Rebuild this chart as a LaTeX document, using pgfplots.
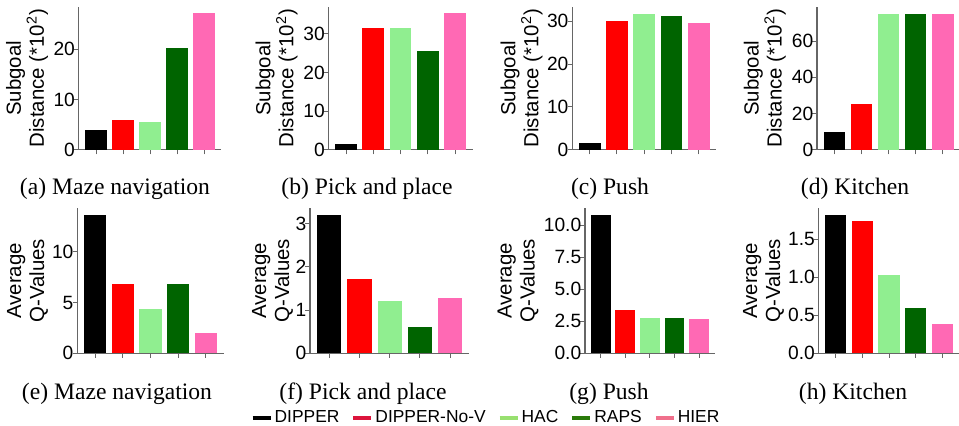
\documentclass[border=0pt]{standalone}
\usepackage{pgfplots}
\pgfplotsset{compat=1.18}
\usepackage{fontspec}
\setmainfont{Liberation Sans}
\newfontfamily\capfont{Liberation Serif}
\definecolor{cK}{HTML}{000000}
\definecolor{cR}{HTML}{FF0000}
\definecolor{cLG}{HTML}{90EE90}
\definecolor{cDG}{HTML}{006400}
\definecolor{cP}{HTML}{FF69B4}
\definecolor{lR}{HTML}{DC143C}
\definecolor{lLG}{HTML}{98E070}
\definecolor{lDG}{HTML}{2A7A0A}
\definecolor{lP}{HTML}{F0708C}
\definecolor{spine}{HTML}{666666}
\pgfplotsset{
 dip/.style={
  scale only axis, anchor=south west,
  axis x line*=bottom, axis y line*=left,
  axis line style={draw=spine, line width=0.55pt},
  xmin=-0.64, xmax=4.64, ymin=0,
  xtick={0,1,2,3,4}, xticklabels={},
  major tick length=2.3pt,
  tick align=outside,
  tick style={draw=spine, line width=0.45pt},
  tick label style={font=\fontsize{9.6}{11}\selectfont},
  yticklabel style={inner sep=0.6pt, xshift=1.2pt},
  ylabel style={align=center, font=\fontsize{10.2}{11.5}\selectfont, anchor=center},
  /pgf/number format/assume math mode=true,
 },
 ylabpos/.style={ylabel style={at={(axis description cs:-#1,0.5)}}},
 toprow/.style={dip, height=71.5pt, ylabel={Subgoal\\Distance (*10\textsuperscript{2})}},
 botrow/.style={dip, height=72.5pt, ylabel={Average\\Q-Values}},
 bstyle/.style={ybar, bar width=0.8, bar shift=0pt, draw=none, fill=#1},
}
\newcommand\capt[3]{\node[anchor=base, font=\capfont\fontsize{11.8}{14}\selectfont] at (#1pt,#2pt) {#3};}
\begin{document}
\begin{tikzpicture}
\useasboundingbox (0,0) rectangle (479.5pt,212.5pt);
% (a)
\begin{axis}[toprow, ylabpos=0.361, at={(39.35pt,137.65pt)}, width=71.3pt, ymax=28.5,
  ytick={0,10,20}, yticklabels={0,10,20}]
\addplot[bstyle=cK] coordinates {(0,3.96)};
\addplot[bstyle=cR] coordinates {(1,5.94)};
\addplot[bstyle=cLG] coordinates {(2,5.5)};
\addplot[bstyle=cDG] coordinates {(3,20.2)};
\addplot[bstyle=cP] coordinates {(4,27.2)};
\end{axis}
% (b)
\begin{axis}[toprow, ylabpos=0.361, at={(164.3pt,137.65pt)}, width=71.95pt, ymax=37.0,
  ytick={0,10,20,30}, yticklabels={0,10,20,30}]
\addplot[bstyle=cK] coordinates {(0,1.46)};
\addplot[bstyle=cR] coordinates {(1,31.6)};
\addplot[bstyle=cLG] coordinates {(2,31.6)};
\addplot[bstyle=cDG] coordinates {(3,25.5)};
\addplot[bstyle=cP] coordinates {(4,35.25)};
\end{axis}
% (c)
\begin{axis}[toprow, ylabpos=0.351, at={(286.1pt,137.65pt)}, width=72.0pt, ymax=33.4,
  ytick={0,10,20,30}, yticklabels={0,10,20,30}]
\addplot[bstyle=cK] coordinates {(0,1.55)};
\addplot[bstyle=cR] coordinates {(1,30.1)};
\addplot[bstyle=cLG] coordinates {(2,31.8)};
\addplot[bstyle=cDG] coordinates {(3,31.3)};
\addplot[bstyle=cP] coordinates {(4,29.5)};
\end{axis}
% (d)
\begin{axis}[toprow, ylabpos=0.364, at={(408.5pt,137.65pt)}, width=71.5pt, ymax=79.0,
  ytick={0,20,40,60}, yticklabels={0,20,40,60}]
\addplot[bstyle=cK] coordinates {(0,9.7)};
\addplot[bstyle=cR] coordinates {(1,25.5)};
\addplot[bstyle=cLG] coordinates {(2,75.2)};
\addplot[bstyle=cDG] coordinates {(3,75.2)};
\addplot[bstyle=cP] coordinates {(4,75.2)};
\end{axis}
% (e)
\begin{axis}[botrow, ylabpos=0.339, at={(38.6pt,35.85pt)}, width=73.25pt, ymax=14.3,
  ytick={0,5,10}, yticklabels={0,5,10}]
\addplot[bstyle=cK] coordinates {(0,13.65)};
\addplot[bstyle=cR] coordinates {(1,6.84)};
\addplot[bstyle=cLG] coordinates {(2,4.38)};
\addplot[bstyle=cDG] coordinates {(3,6.84)};
\addplot[bstyle=cP] coordinates {(4,2.04)};
\end{axis}
% (f)
\begin{axis}[botrow, ylabpos=0.235, at={(155.0pt,35.85pt)}, width=79.65pt, ymax=3.35,
  ytick={0,1,2,3}, yticklabels={0,1,2,3}]
\addplot[bstyle=cK] coordinates {(0,3.19)};
\addplot[bstyle=cR] coordinates {(1,1.715)};
\addplot[bstyle=cLG] coordinates {(2,1.21)};
\addplot[bstyle=cDG] coordinates {(3,0.61)};
\addplot[bstyle=cP] coordinates {(4,1.28)};
\end{axis}
% (g)
\begin{axis}[botrow, ylabpos=0.516, at={(292.5pt,35.85pt)}, width=64.9pt, ymax=11.33,
  ytick={0,2.5,5,7.5,10}, yticklabels={0.0,2.5,5.0,7.5,10.0}]
\addplot[bstyle=cK] coordinates {(0,10.8)};
\addplot[bstyle=cR] coordinates {(1,3.39)};
\addplot[bstyle=cLG] coordinates {(2,2.76)};
\addplot[bstyle=cDG] coordinates {(3,2.76)};
\addplot[bstyle=cP] coordinates {(4,2.68)};
\end{axis}
% (h)
\begin{axis}[botrow, ylabpos=0.391, at={(409.3pt,35.85pt)}, width=70.4pt, ymax=1.91,
  ytick={0,0.5,1,1.5}, yticklabels={0.0,0.5,1.0,1.5}]
\addplot[bstyle=cK] coordinates {(0,1.82)};
\addplot[bstyle=cR] coordinates {(1,1.746)};
\addplot[bstyle=cLG] coordinates {(2,1.03)};
\addplot[bstyle=cDG] coordinates {(3,0.596)};
\addplot[bstyle=cP] coordinates {(4,0.39)};
\end{axis}
% legend
\begin{axis}[at={(0pt,0pt)}, anchor=south west, scale only axis, width=479.5pt, height=212.5pt,
  xmin=0, xmax=959, ymin=0, ymax=425, hide axis,
  legend columns=5,
  legend style={at={(0.5068,0.016)}, anchor=center, draw=none, fill=none,
    font=\fontsize{8.7}{10}\selectfont, inner sep=0pt, nodes={inner sep=1pt},
    /tikz/every even column/.append style={column sep=5pt}},
  legend image code/.code={\draw[#1, line width=2pt] (0pt,0pt) -- (9pt,0pt);}]
\addlegendimage{cK}\addlegendentry{DIPPER}
\addlegendimage{lR}\addlegendentry{DIPPER-No-V}
\addlegendimage{lLG}\addlegendentry{HAC}
\addlegendimage{lDG}\addlegendentry{RAPS}
\addlegendimage{lP}\addlegendentry{HIER}
\end{axis}
\capt{57.5}{115.3}{(a) Maze navigation}
\capt{183.5}{115.3}{(b) Pick and place}
\capt{305}{115.3}{(c) Push}
\capt{427.5}{115.3}{(d) Kitchen}
\capt{58.5}{12.85}{(e) Maze navigation}
\capt{181.5}{12.85}{(f) Pick and place}
\capt{304.5}{12.85}{(g) Push}
\capt{426.5}{12.85}{(h) Kitchen}
\end{tikzpicture}
\end{document}
